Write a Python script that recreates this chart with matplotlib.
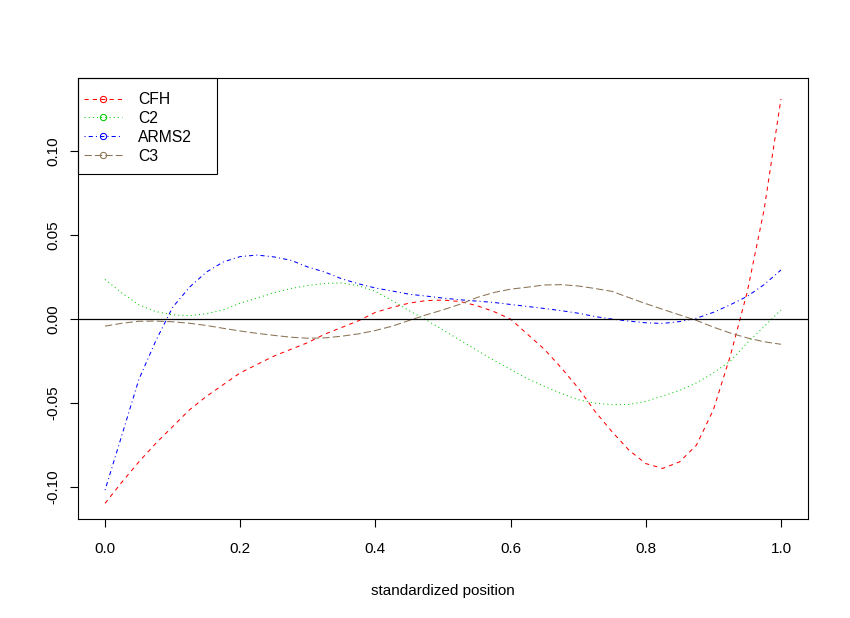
import matplotlib
matplotlib.use("Agg")
import matplotlib.pyplot as plt
from matplotlib.patches import Rectangle
import numpy as np

plt.rcParams['font.family'] = ['Liberation Sans', 'DejaVu Sans']

pos = np.linspace(0, 1, 41)

cfh = [-0.1097, -0.097, -0.085, -0.074, -0.064, -0.054, -0.046, -0.039, -0.032, -0.027,
       -0.022, -0.018, -0.014, -0.009, -0.005, -0.001, 0.004, 0.007, 0.0095, 0.011,
       0.0113, 0.0105, 0.008, 0.0045, 0.000, -0.009, -0.018, -0.029, -0.041, -0.055,
       -0.067, -0.078, -0.086, -0.0889, -0.085, -0.075, -0.054, -0.022, 0.016, 0.065, 0.131]

c2 = [0.0236, 0.0155, 0.0085, 0.0045, 0.0025, 0.002, 0.0032, 0.0055, 0.0095, 0.0125,
      0.0157, 0.0182, 0.020, 0.0212, 0.0215, 0.0198, 0.0165, 0.011, 0.005, -0.0005,
      -0.0065, -0.0125, -0.0185, -0.0245, -0.030, -0.0355, -0.040, -0.0443, -0.048, -0.050,
      -0.051, -0.0508, -0.049, -0.0458, -0.0425, -0.038, -0.032, -0.025, -0.0142, -0.0045, 0.0054]

arms2 = [-0.1018, -0.069, -0.036, -0.013, 0.007, 0.019, 0.028, 0.034, 0.0372, 0.0381,
         0.037, 0.035, 0.031, 0.028, 0.024, 0.021, 0.0185, 0.0167, 0.0148, 0.0137,
         0.0125, 0.0115, 0.0107, 0.0099, 0.0087, 0.0075, 0.0063, 0.005, 0.0035, 0.0015,
         0.000, -0.0012, -0.0022, -0.0026, -0.0015, 0.0005, 0.004, 0.0085, 0.0135, 0.0205, 0.0292]

c3 = [-0.0042, -0.0025, -0.0013, -0.0012, -0.0016, -0.0025, -0.0038, -0.0055, -0.0071, -0.0085,
      -0.0097, -0.0108, -0.0114, -0.0112, -0.0102, -0.0088, -0.0068, -0.0042, -0.0008, 0.0025,
      0.0055, 0.0088, 0.0128, 0.0158, 0.0178, 0.019, 0.0203, 0.0205, 0.0197, 0.0182,
      0.0165, 0.0128, 0.0092, 0.0058, 0.0025, -0.0008, -0.0048, -0.0083, -0.0112, -0.0135, -0.015]

names = ['CFH', 'C2', 'ARMS2', 'C3']
series = [cfh, c2, arms2, c3]
colors = ['#FF0000', '#00CD00', '#0000FF', '#8B7355']
dashes = [(4, 4), (1, 3), (1, 3, 4, 3), (7, 3)]

W, H = 850, 618
fig = plt.figure(figsize=(8.5, 6.18), dpi=100)
ax = fig.add_axes([78 / W, 1 - 519 / H, 730 / W, 441 / H])

lw = 0.75
for name, y, col, d in zip(names, series, colors, dashes):
    ax.plot(pos, y, color=col, lw=lw, dashes=d, label=name)

ax.axhline(0, color='black', lw=0.9)

ax.set_xlim(-0.04, 1.04)
ax.set_ylim(-0.119, 0.1435)
ax.set_xticks([0, 0.2, 0.4, 0.6, 0.8, 1.0])
ax.set_xticklabels(['0.0', '0.2', '0.4', '0.6', '0.8', '1.0'])
ax.set_yticks([-0.10, -0.05, 0.0, 0.05, 0.10])
ax.set_yticklabels(['-0.10', '-0.05', '0.00', '0.05', '0.10'], rotation=90, va='center')
ax.tick_params(direction='out', length=5.5, width=0.8, labelsize=11)
ax.tick_params(axis='x', pad=11)
ax.tick_params(axis='y', pad=7)
for s in ax.spines.values():
    s.set_linewidth(0.8)
ax.set_xlabel('standardized position', fontsize=11, labelpad=20)

# legend: line with open circle in middle, R-style box
handles = []
for name, col, d in zip(names, colors, dashes):
    h, = ax.plot([], [], color=col, lw=lw, dashes=d, marker='o', mfc='none',
                 ms=4.5, mew=0.75)
    handles.append(h)
leg = fig.legend(handles, names, loc='upper left',
                 bbox_to_anchor=(84 / W, 1 - 92 / H), borderaxespad=0, borderpad=0,
                 frameon=False, fontsize=11.3, numpoints=1,
                 handlelength=2.45, handletextpad=1.0, labelspacing=0.25)
fig.add_artist(Rectangle((78 / W, 1 - 174 / H), 139 / W, 96 / H, transform=fig.transFigure,
                         fill=False, edgecolor='black', lw=0.8))

fig.savefig('out.png', dpi=100)
